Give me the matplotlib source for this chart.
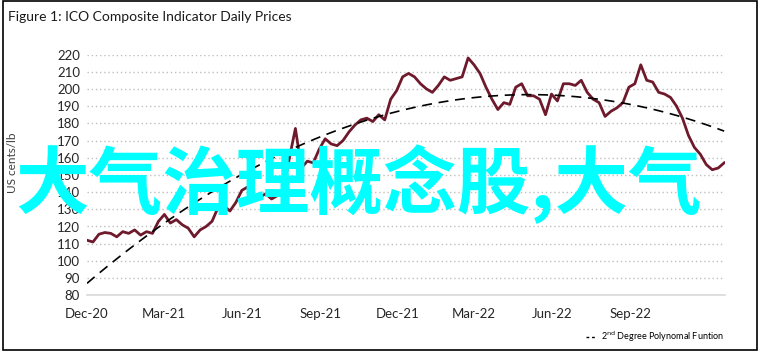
'''ICO Composite Indicator Daily Prices'''
import numpy as np
import pandas as pd
import matplotlib
matplotlib.use('Agg')
import matplotlib.pyplot as plt
import matplotlib.dates as mdates
from matplotlib.lines import Line2D
from matplotlib.patches import Rectangle

# weekly readings, US cents/lb
dates = pd.date_range('2020-12-01', periods=108, freq='7D')
prices = [112, 111, 115.5, 116.5, 116, 114, 117, 116, 118, 115,
          117, 116, 123, 127, 122, 124, 121, 119, 114, 118,
          120, 123, 131, 132, 129, 134, 141, 143, 138, 137,
          139, 136, 138, 142, 160, 177, 154, 158, 157, 165,
          171, 168, 167, 170, 175, 179, 182, 183, 181, 185,
          182, 194, 199, 207, 209, 207, 203, 200, 198, 202,
          207, 205, 206, 207, 218, 214, 209, 201, 194, 188,
          192, 191, 201, 203, 196, 196, 194, 185, 197, 193,
          203, 203, 202, 205, 198, 194, 192, 184, 187, 189,
          192, 201, 203, 214, 205, 204, 198, 197, 195, 190,
          183, 173, 166, 162, 156, 153, 154, 157]

tick_dates = ['2020-12-01', '2021-03-01', '2021-06-01', '2021-09-01',
              '2021-12-01', '2022-03-01', '2022-06-01', '2022-09-01']
yticks = list(range(80, 230, 10))

title = 'Figure 1: ICO Composite Indicator Daily Prices'
ylabel = 'US cents/lb'
legend_label = '2$^{\\rm nd}$ Degree Polynomal Funtion'
watermark = '大气治理概念股,大气'

font = ['Lato', 'DejaVu Sans']
plt.rcParams['font.family'] = font

fig = plt.figure(figsize=(7.62, 3.56), dpi=100)
ax = fig.add_axes([87/762, 1 - 295.3/356, (725 - 87)/762, (295.3 - 54.5)/356])

# 2nd degree polynomial trend on the prices
t = mdates.date2num(dates)
coef = np.polyfit(t - t[0], prices, 2)
trend = np.polyval(coef, t - t[0])

ax.plot(dates, prices, color='#6E1A2C', lw=2, zorder=3)
ax.plot(dates, trend, color='black', lw=1.2, ls=(0, (6, 4)), zorder=4)

ax.set_xlim(pd.Timestamp('2020-12-01'), pd.Timestamp('2022-12-21'))
ax.set_ylim(80, 220)
ax.set_yticks(yticks)
ax.set_xticks(pd.to_datetime(tick_dates))
ax.xaxis.set_major_formatter(mdates.DateFormatter('%b-%y'))
ax.grid(axis='y', ls=(0, (1, 2)), color='#BFBFBF', lw=1)
ax.set_axisbelow(True)
for s in ['top', 'right', 'left']:
    ax.spines[s].set_visible(False)
ax.spines['bottom'].set_color('#D9D9D9')
ax.spines['bottom'].set_linewidth(1.2)
ax.tick_params(length=0, labelsize=9.5, colors='#262626', pad=5)
ax.tick_params(axis='x', pad=9)
ax.set_ylabel(ylabel, fontsize=8.5, color='#404040', labelpad=12)
ax.yaxis.set_label_coords(-0.108, 0.55)

fig.text(8/762, 1 - 17/356, title, fontsize=10, va='center', ha='left', color='#1a1a1a')

handle = Line2D([], [], color='black', lw=1, ls=(0, (2, 2)))
fig.legend([handle], [legend_label], loc='center right', frameon=False,
           bbox_to_anchor=(732/762, 1 - 337/356), fontsize=6.5, handlelength=1.2,
           handletextpad=0.4)

fig.text(15/762, 1 - 184/356, watermark, fontsize=53, color='#00FFFF',
         family=['Noto Sans CJK SC', 'DejaVu Sans'], weight='bold',
         va='center', ha='left', zorder=10)

fig.patches.append(Rectangle((2.5/762, 1 - 350/356), 754/762, 349/356,
                             transform=fig.transFigure, fill=False,
                             edgecolor='black', lw=1.2))

fig.savefig('out.png', dpi=100)
